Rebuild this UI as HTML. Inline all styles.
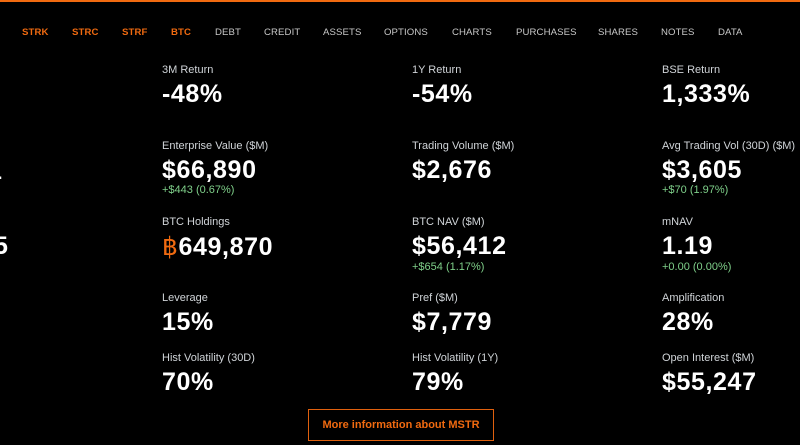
<!DOCTYPE html>
<html><head><meta charset="utf-8"><style>
body{margin:0;width:800px;height:445px;background:#000;overflow:hidden;font-family:"Liberation Sans",sans-serif;position:relative}
.top{position:absolute;left:0;top:0;width:800px;height:2px;background:#f06a10}
.nav{position:absolute;top:27px;font-size:9.6px;color:#c8c8c8;letter-spacing:.1px}
.nav.o{color:#f06a10;font-weight:bold}
.l{position:absolute;font-size:11px;color:#d0d4d8}
.v{position:absolute;font-size:25px;color:#fff;font-weight:bold;letter-spacing:.6px}
.g{position:absolute;font-size:11px;color:#7fd08a}
.btn{position:absolute;left:308px;top:409px;width:184px;height:30px;border:1px solid #e0600e;color:#f06a10;font-size:11px;font-weight:bold;text-align:center;line-height:30px}
</style></head><body>
<div class="top"></div>
<div class="nav o" style="left:22px">STRK</div>
<div class="nav o" style="left:72px">STRC</div>
<div class="nav o" style="left:122px">STRF</div>
<div class="nav o" style="left:171px">BTC</div>
<div class="nav" style="left:215px">DEBT</div>
<div class="nav" style="left:264px">CREDIT</div>
<div class="nav" style="left:323px">ASSETS</div>
<div class="nav" style="left:384px">OPTIONS</div>
<div class="nav" style="left:452px">CHARTS</div>
<div class="nav" style="left:516px">PURCHASES</div>
<div class="nav" style="left:598px">SHARES</div>
<div class="nav" style="left:661px">NOTES</div>
<div class="nav" style="left:718px">DATA</div>

<div class="v" style="left:-12px;top:157px">1</div>
<div class="v" style="left:-6px;top:232px">5</div>

<div class="l" style="left:162px;top:64px">3M Return</div>
<div class="v" style="left:162px;top:80px">-48%</div>
<div class="l" style="left:412px;top:64px">1Y Return</div>
<div class="v" style="left:412px;top:80px">-54%</div>
<div class="l" style="left:662px;top:64px">BSE Return</div>
<div class="v" style="left:662px;top:80px">1,333%</div>

<div class="l" style="left:162px;top:140px">Enterprise Value ($M)</div>
<div class="v" style="left:162px;top:156px">$66,890</div>
<div class="g" style="left:162px;top:184px">+$443 (0.67%)</div>
<div class="l" style="left:412px;top:140px">Trading Volume ($M)</div>
<div class="v" style="left:412px;top:156px">$2,676</div>
<div class="l" style="left:662px;top:140px;white-space:nowrap">Avg Trading Vol (30D) ($M)</div>
<div class="v" style="left:662px;top:156px">$3,605</div>
<div class="g" style="left:662px;top:184px">+$70 (1.97%)</div>

<div class="l" style="left:162px;top:216px">BTC Holdings</div>
<div class="v" style="left:162px;top:232px"><span style="color:#f06a10;font-weight:normal">&#3647;</span>649,870</div>
<div class="l" style="left:412px;top:216px">BTC NAV ($M)</div>
<div class="v" style="left:412px;top:232px">$56,412</div>
<div class="g" style="left:412px;top:261px">+$654 (1.17%)</div>
<div class="l" style="left:662px;top:216px">mNAV</div>
<div class="v" style="left:662px;top:232px">1.19</div>
<div class="g" style="left:662px;top:261px">+0.00 (0.00%)</div>

<div class="l" style="left:162px;top:292px">Leverage</div>
<div class="v" style="left:162px;top:308px">15%</div>
<div class="l" style="left:412px;top:292px">Pref ($M)</div>
<div class="v" style="left:412px;top:308px">$7,779</div>
<div class="l" style="left:662px;top:292px">Amplification</div>
<div class="v" style="left:662px;top:308px">28%</div>

<div class="l" style="left:162px;top:352px">Hist Volatility (30D)</div>
<div class="v" style="left:162px;top:368px">70%</div>
<div class="l" style="left:412px;top:352px">Hist Volatility (1Y)</div>
<div class="v" style="left:412px;top:368px">79%</div>
<div class="l" style="left:662px;top:352px">Open Interest ($M)</div>
<div class="v" style="left:662px;top:368px">$55,247</div>

<div class="btn">More information about MSTR</div>
</body></html>
